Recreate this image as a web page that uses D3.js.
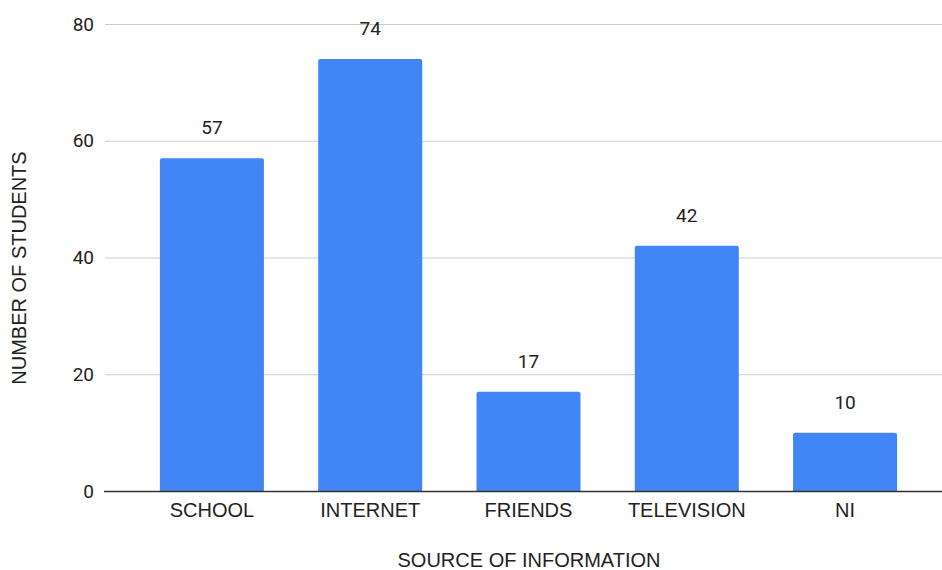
<title>Source of information</title>
<body style="margin:0;background:#fff"></body>
<script src="https://d3js.org/d3.v7.min.js"></script>
<script>
const categories = ['SCHOOL', 'INTERNET', 'FRIENDS', 'TELEVISION', 'NI'];
const students = [57, 74, 17, 42, 10];
const yTicks = [0, 20, 40, 60, 80];

const width = 942, height = 570;

const svg = d3.select('body').append('svg')
    .attr('width', width)
    .attr('height', height)
    .style('display', 'block');

const x = d3.scaleBand().domain(categories).range([133, 924]).paddingInner(0.343).paddingOuter(0.17);
const y = d3.scaleLinear().domain([0, 80]).range([491, 24]);

// gridlines
const grid = svg.append('g').attr('transform', 'translate(105,0)')
    .call(d3.axisLeft(y).tickValues(yTicks).tickSize(-837).tickFormat(''));
grid.select('.domain').remove();
grid.selectAll('line').attr('stroke', '#ccc').attr('stroke-width', 1);

// y tick labels
const yax = svg.append('g').attr('transform', 'translate(94,0)')
    .call(d3.axisLeft(y).tickValues(yTicks).tickSize(0).tickPadding(0));
yax.select('.domain').remove();
yax.selectAll('text')
    .attr('fill', '#222')
    .style('font-family', 'Roboto, sans-serif')
    .style('font-size', '19px');

// bars with slightly rounded tops
svg.append('g').selectAll('path')
    .data(categories)
    .join('path')
    .attr('fill', '#4285f4')
    .attr('d', (d, i) => {
      const x0 = x(d), w = x.bandwidth(), y0 = y(students[i]), y1 = y(0), r = 2;
      return `M${x0},${y1}V${y0 + r}Q${x0},${y0} ${x0 + r},${y0}H${x0 + w - r}Q${x0 + w},${y0} ${x0 + w},${y0 + r}V${y1}Z`;
    });

// value labels
svg.append('g').selectAll('text')
    .data(categories)
    .join('text')
    .attr('x', d => x(d) + x.bandwidth() / 2)
    .attr('y', (d, i) => y(students[i]) - 24)
    .attr('text-anchor', 'middle')
    .attr('fill', '#222')
    .style('font-family', 'Roboto, sans-serif')
    .style('font-size', '19px')
    .text((d, i) => students[i]);

// x axis
const xax = svg.append('g').attr('transform', 'translate(0,491)')
    .call(d3.axisBottom(x).tickSize(0).tickPadding(12).tickSizeOuter(0));
xax.select('.domain').attr('d', 'M104,0.5H942').attr('stroke', '#333').attr('stroke-width', 1.3);
xax.selectAll('text')
    .attr('fill', '#222')
    .style('font-family', 'Arial, "Liberation Sans", sans-serif')
    .style('font-size', '20px');

// axis titles
svg.append('text')
    .attr('x', 529).attr('y', 567)
    .attr('text-anchor', 'middle')
    .attr('fill', '#222')
    .style('font-family', 'Arial, "Liberation Sans", sans-serif')
    .style('font-size', '20px')
    .text('SOURCE OF INFORMATION');

svg.append('text')
    .attr('transform', 'translate(26,268) rotate(-90)')
    .attr('text-anchor', 'middle')
    .attr('fill', '#222')
    .style('font-family', 'Arial, "Liberation Sans", sans-serif')
    .style('font-size', '20px')
    .text('NUMBER OF STUDENTS');
</script>
